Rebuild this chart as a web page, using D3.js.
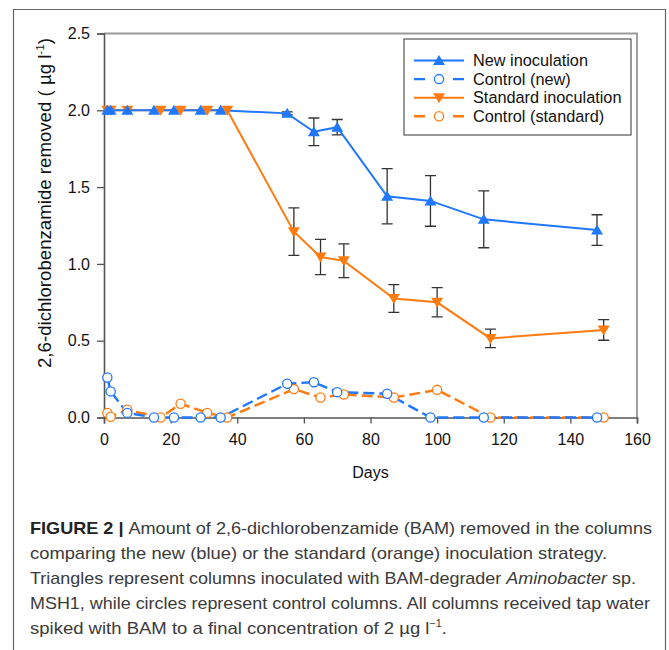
<!DOCTYPE html>
<html>
<head>
<meta charset="utf-8">
<script src="https://cdn.jsdelivr.net/npm/d3@7"></script>
<style>
  html, body { margin: 0; padding: 0; background: #fff; }
  svg { display: block; font-family: "Liberation Sans", Arial, sans-serif; }
</style>
</head>
<body>
<svg id="chart" width="669" height="650"></svg>
<script>
// Sampling days and BAM removed (µg/l) for each column set
const newDays = [1, 2, 7, 15, 21, 29, 35, 55, 63, 70, 85, 98, 114, 148];
const newVals = [2.0, 2.0, 2.0, 2.0, 2.0, 2.0, 2.0, 1.98, 1.86, 1.89, 1.44, 1.41, 1.29, 1.22];
const newErr  = [0, 0, 0, 0, 0, 0, 0, 0.01, 0.09, 0.05, 0.18, 0.165, 0.185, 0.10];

const ctrlNewVals = [0.26, 0.17, 0.03, 0, 0, 0, 0, 0.22, 0.23, 0.165, 0.155, 0, 0, 0];

const stdDays = [1, 2, 7, 17, 23, 31, 37, 57, 65, 72, 87, 100, 116, 150];
const stdVals = [2.0, 2.0, 2.0, 2.0, 2.0, 2.0, 2.0, 1.21, 1.045, 1.02, 0.775, 0.75, 0.515, 0.57];
const stdErr  = [0, 0, 0, 0, 0, 0, 0, 0.155, 0.115, 0.11, 0.09, 0.095, 0.06, 0.067];

const ctrlStdVals = [0.03, 0.005, 0.05, 0, 0.09, 0.03, 0, 0.185, 0.13, 0.15, 0.13, 0.18, 0, 0];

const xTicks = [0, 20, 40, 60, 80, 100, 120, 140, 160];
const yTicks = [0.0, 0.5, 1.0, 1.5, 2.0, 2.5];

const seriesNames = ["New inoculation", "Control (new)", "Standard inoculation", "Control (standard)"];

const BLUE = "#1f78ff";
const ORANGE = "#ff7b10";

const svg = d3.select("#chart");

// Outer figure frame (open at the bottom)
svg.append("path")
  .attr("d", "M13.5,650 L13.5,9.5 L665.5,9.5 L665.5,650")
  .attr("fill", "none").attr("stroke", "#666").attr("stroke-width", 1.2);

const x = d3.scaleLinear().domain([0, 160]).range([104, 637]);
const y = d3.scaleLinear().domain([0, 2.5]).range([417.5, 33.5]);

// Plot box: top and right edges
svg.append("path")
  .attr("d", `M${x(0)},${y(2.5)} L${x(160)},${y(2.5)} L${x(160)},${y(0)}`)
  .attr("fill", "none").attr("stroke", "#999").attr("stroke-width", 1.8);

// Axes
const xAxis = d3.axisBottom(x).tickValues(xTicks).tickFormat(d3.format("d")).tickSize(6).tickPadding(10);
const yAxis = d3.axisLeft(y).tickValues(yTicks).tickFormat(d3.format(".1f")).tickSize(7).tickPadding(7);

const gx = svg.append("g").attr("transform", `translate(0,${y(0)})`).call(xAxis);
const gy = svg.append("g").attr("transform", `translate(${x(0)},0)`).call(yAxis);
[gx, gy].forEach(g => {
  g.select(".domain").attr("stroke", "#555").attr("stroke-width", 1.6);
  g.selectAll(".tick line").attr("stroke", "#555").attr("stroke-width", 1.3);
  g.selectAll(".tick text").attr("font-size", 16).attr("fill", "#111")
    .attr("font-family", "'Liberation Sans', Arial, sans-serif");
});

// Axis titles
svg.append("text").attr("x", (x(0) + x(160)) / 2).attr("y", 478)
  .attr("text-anchor", "middle").attr("font-size", 16).attr("fill", "#111").text("Days");

const yt = svg.append("text")
  .attr("transform", "translate(51,203) rotate(-90)")
  .attr("text-anchor", "middle").attr("font-size", 17.5).attr("fill", "#111")
  .attr("textLength", 330).attr("lengthAdjust", "spacingAndGlyphs");
yt.append("tspan").text("2,6-dichlorobenzamide removed ( µg l");
yt.append("tspan").attr("font-size", 11).attr("dy", -7).text("-1");
yt.append("tspan").attr("dy", 7).text(")");

// Marker shapes
const triUp = (cx, cy) => `M${cx},${cy - 5.5} L${cx + 6},${cy + 4.5} L${cx - 6},${cy + 4.5} Z`;
const triDown = (cx, cy) => `M${cx},${cy + 5.5} L${cx + 6},${cy - 4.5} L${cx - 6},${cy - 4.5} Z`;

const line = d3.line().x(d => x(d[0])).y(d => y(d[1]));

function drawSeries(days, vals, color, dashed) {
  const pts = days.map((d, i) => [d, vals[i]]);
  svg.append("path").datum(pts).attr("d", line)
    .attr("fill", "none").attr("stroke", color)
    .attr("stroke-width", dashed ? 2.4 : 2)
    .attr("stroke-dasharray", dashed ? "11,5" : null);
  return pts;
}

function drawErrors(days, vals, errs) {
  const g = svg.append("g").attr("stroke", "#333").attr("stroke-width", 1.3).attr("fill", "none");
  days.forEach((d, i) => {
    if (!errs[i]) return;
    const cx = x(d), y1 = y(vals[i] + errs[i]), y2 = y(vals[i] - errs[i]);
    g.append("path").attr("d", `M${cx},${y1} L${cx},${y2} M${cx - 5.5},${y1} L${cx + 5.5},${y1} M${cx - 5.5},${y2} L${cx + 5.5},${y2}`);
  });
}

function drawCircles(pts, color) {
  svg.append("g").selectAll("circle").data(pts).join("circle")
    .attr("cx", d => x(d[0])).attr("cy", d => y(d[1])).attr("r", 4.6)
    .attr("fill", "#fff").attr("stroke", color).attr("stroke-width", 1.3);
}

function drawTris(pts, color, shape) {
  svg.append("g").selectAll("path").data(pts).join("path")
    .attr("d", d => shape(x(d[0]), y(d[1]))).attr("fill", color);
}

// Controls first, then inoculated columns on top
const cStd = drawSeries(stdDays, ctrlStdVals, ORANGE, true);
const cNew = drawSeries(newDays, ctrlNewVals, BLUE, true);
drawCircles(cStd, ORANGE);
drawCircles(cNew, BLUE);

drawErrors(stdDays, stdVals, stdErr);
drawErrors(newDays, newVals, newErr);
const sStd = drawSeries(stdDays, stdVals, ORANGE, false);
const sNew = drawSeries(newDays, newVals, BLUE, false);
drawTris(sStd, ORANGE, triDown);
drawTris(sNew, BLUE, triUp);

// Legend
const lg = svg.append("g");
lg.append("rect").attr("x", 404).attr("y", 39).attr("width", 227).attr("height", 96)
  .attr("fill", "#fff").attr("stroke", "#333").attr("stroke-width", 1);
const legendItems = [
  { color: BLUE, dashed: false, mark: "up" },
  { color: BLUE, dashed: true, mark: "circle" },
  { color: ORANGE, dashed: false, mark: "down" },
  { color: ORANGE, dashed: true, mark: "circle" }
];
legendItems.forEach((it, i) => {
  const cy = 60.5 + i * 18.6, cx = 439;
  if (it.dashed) {
    lg.append("path").attr("d", `M414,${cy} L425,${cy} M453,${cy} L464,${cy}`)
      .attr("stroke", it.color).attr("stroke-width", 2.4);
    lg.append("circle").attr("cx", cx).attr("cy", cy).attr("r", 4.6)
      .attr("fill", "#fff").attr("stroke", it.color).attr("stroke-width", 1.3);
  } else {
    lg.append("path").attr("d", `M414,${cy} L464,${cy}`).attr("stroke", it.color).attr("stroke-width", 2);
    lg.append("path").attr("d", it.mark === "up" ? triUp(cx, cy) : triDown(cx, cy)).attr("fill", it.color);
  }
  lg.append("text").attr("x", 473).attr("y", cy + 5.5).attr("font-size", 16.3).attr("fill", "#111")
    .text(seriesNames[i]);
});

// Figure caption
const capLines = [
  { len: 622, parts: [["FIGURE 2 | ", "bold"], ["Amount of 2,6-dichlorobenzamide (BAM) removed in the columns", ""]] },
  { len: 577, parts: [["comparing the new (blue) or the standard (orange) inoculation strategy.", ""]] },
  { len: 606, parts: [["Triangles represent columns inoculated with BAM-degrader ", ""], ["Aminobacter", "italic"], [" sp.", ""]] },
  { len: 620, parts: [["MSH1, while circles represent control columns. All columns received tap water", ""]] },
  { len: 417, parts: [["spiked with BAM to a final concentration of 2 µg l", ""], ["−1", "sup"], [".", "after"]] }
];
capLines.forEach((ln, i) => {
  const t = svg.append("text").attr("x", 30).attr("y", 534 + i * 25)
    .attr("font-size", 17).attr("fill", "#3a3a3a")
    .attr("textLength", ln.len).attr("lengthAdjust", "spacingAndGlyphs");
  ln.parts.forEach(([s, st]) => {
    const sp = t.append("tspan").text(s);
    if (st === "bold") sp.attr("font-weight", "bold").attr("fill", "#222");
    if (st === "italic") sp.attr("font-style", "italic");
    if (st === "sup") sp.attr("font-size", 10).attr("dy", -7);
    if (st === "after") sp.attr("dy", 7);
  });
});
</script>
</body>
</html>
